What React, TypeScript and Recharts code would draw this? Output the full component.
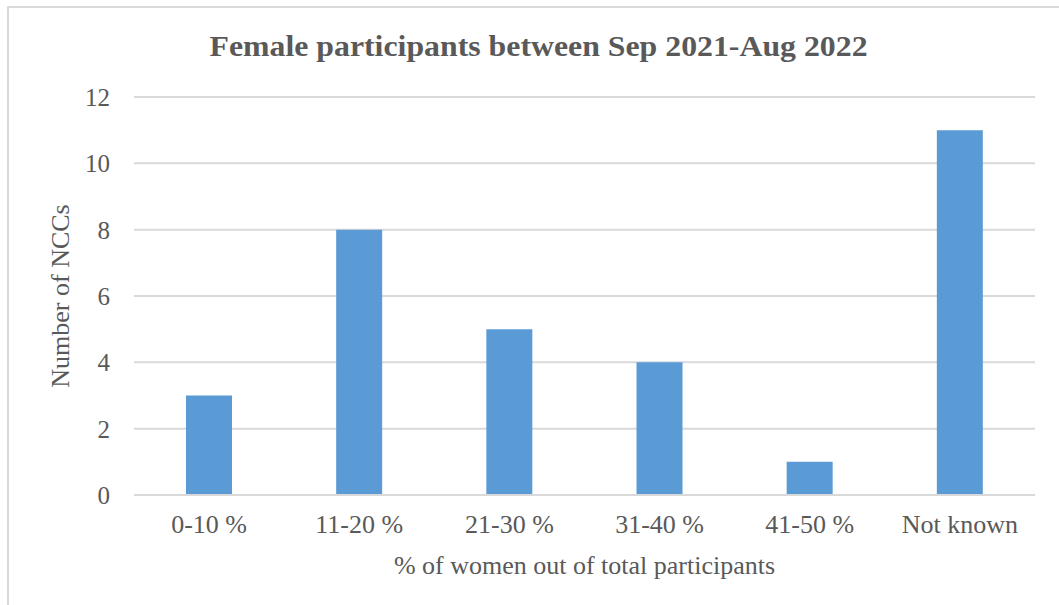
import { BarChart, Bar, XAxis, YAxis, CartesianGrid, Label } from "recharts";

// categories and counts
const categories = ["0-10 %", "11-20 %", "21-30 %", "31-40 %", "41-50 %", "Not known"];
const nccCounts = [3, 8, 5, 4, 1, 11];
const yTicks = [0, 2, 4, 6, 8, 10, 12];

const data = categories.map((c, i) => ({ range: c, count: nccCounts[i] }));

const FONT = "'Liberation Serif', 'Times New Roman', serif";
const TEXT = "#595959";

export default function App() {
  return (
    <div style={{ position: "fixed", left: 0, top: 0, width: 1059, height: 605, overflow: "hidden", background: "#fff", fontFamily: FONT }}>
      {/* cropped frame of the chart object */}
      <div style={{ position: "absolute", left: 7, top: 6, width: 1200, height: 800, border: "2px solid #d9d9d9", boxSizing: "border-box" }} />
      <div style={{ position: "absolute", left: 0, width: 1077, top: 28, textAlign: "center", fontSize: 30, fontWeight: "bold", color: TEXT, lineHeight: "36px", transform: "scaleX(1.06)", transformOrigin: "538px 0" }}>
        Female participants between Sep 2021-Aug 2022
      </div>
      <div style={{ position: "absolute", left: 0, top: 0 }}>
        <BarChart width={1059} height={605} data={data} margin={{ top: 97, right: 24, bottom: 0, left: 0 }} barCategoryGap={52}>
          <CartesianGrid vertical={false} stroke="#d9d9d9" strokeWidth={2} />
          <XAxis
            dataKey="range"
            height={110}
            axisLine={{ stroke: "#d9d9d9", strokeWidth: 2 }}
            tickLine={false}
            tickSize={0}
            tickMargin={20}
            interval={0}
            tick={{ fill: TEXT, fontSize: 26, fontFamily: FONT }}
          >
            <Label value="% of women out of total participants" position="insideBottom" offset={31} style={{ fill: TEXT, fontSize: 26, fontFamily: FONT }} />
          </XAxis>
          <YAxis
            width={134}
            domain={[0, 12]}
            ticks={yTicks}
            axisLine={false}
            tickLine={false}
            tickSize={0}
            tickMargin={24}
            tick={{ fill: TEXT, fontSize: 25, fontFamily: FONT }}
          >
            <Label value="Number of NCCs" angle={-90} position="insideLeft" offset={60} style={{ fill: TEXT, fontSize: 26, fontFamily: FONT, textAnchor: "middle" }} />
          </YAxis>
          <Bar dataKey="count" fill="#5b9bd5" isAnimationActive={false} />
        </BarChart>
      </div>
    </div>
  );
}
